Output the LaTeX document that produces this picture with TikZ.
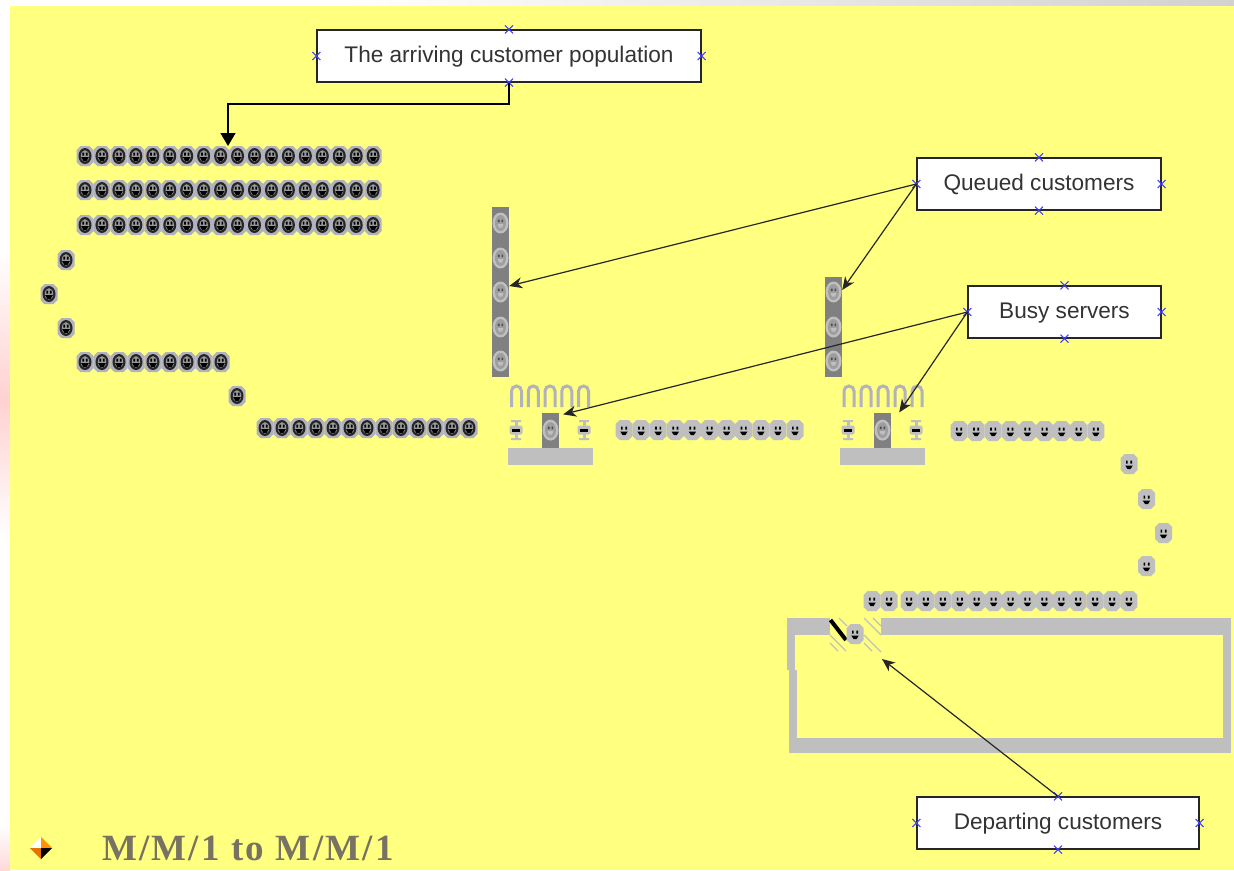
\documentclass[tikz,border=0pt]{standalone}
\usepackage{fontspec}
\setmainfont{Liberation Sans}
\newfontfamily\titlefont[LetterSpace=6]{Liberation Serif}
\usepackage{tikz}
\usetikzlibrary{positioning, arrows, arrows.meta, shapes}
\definecolor{slide}{HTML}{FFFF80}
\definecolor{wallgray}{HTML}{BFBFBF}
\definecolor{bargray}{HTML}{808080}
\definecolor{halo}{HTML}{B2B2BC}
\definecolor{titlegray}{HTML}{787262}
\tikzstyle{arrow} = [line width=1.2pt,-{Stealth[length=13pt,width=11pt,inset=4pt]},draw=black!85]
\tikzstyle{bigarrow} = [line width=1.4pt,-{Triangle[length=13pt,width=15pt]},draw=black]
\tikzstyle{callout} = [rectangle, draw=black!85, line width=1.2pt, fill=white, minimum height=52pt, text=black!80, inner sep=0pt, text height=16pt, text depth=3.4pt, font=\fontsize{22.6}{26}\selectfont]
\tikzstyle{handle} = [cross out, draw=blue!75!white, line width=1pt, minimum size=7pt, inner sep=0pt]
\tikzstyle{queuebar} = [rectangle, fill=bargray, minimum width=17pt, inner sep=0pt]
\tikzstyle{base} = [rectangle, fill=wallgray, minimum width=85pt, minimum height=17pt, inner sep=0pt]
\tikzset{
    pics/darkface/.style={code={
        \fill[halo] (-4.5,-10) -- (4.5,-10) -- (8.5,-6) -- (8.5,6) -- (4.5,10) -- (-4.5,10) -- (-8.5,6) -- (-8.5,-6) -- cycle;
        \fill[black!85] (0,0) ellipse (6.5 and 8);
        \fill[black!40] (0,0) ellipse (4.2 and 5.8);
        \fill[black] (-2.6,-3.5) rectangle (-0.9,-0.5) (0.9,-3.5) rectangle (2.6,-0.5);
        \fill[black] (-3.8,1.2) -- (3.8,1.2) -- (1.5,5) -- (-1.5,5) -- cycle;
    }},
    pics/lightface/.style={code={
        \fill[wallgray] (-4.5,-10) -- (4.5,-10) -- (8.5,-6) -- (8.5,6) -- (4.5,10) -- (-4.5,10) -- (-8.5,6) -- (-8.5,-6) -- cycle;
        \fill[black] (-3,-3.5) rectangle (-1.3,-0.5) (1.3,-3.5) rectangle (3,-0.5);
        \fill[black] (-3.8,1.5) -- (3.8,1.5) -- (1.5,5) -- (-1.5,5) -- cycle;
    }},
    pics/busyface/.style={code={
        \fill[wallgray] (0,0) ellipse (8 and 10.5);
        \fill[black!38] (0,0) ellipse (5.5 and 8);
        \fill[black!70] (-2.6,-3.5) rectangle (-1,-1) (1,-3.5) rectangle (2.6,-1);
        \fill[wallgray] (-3,1) -- (3,1) -- (1.5,4.5) -- (-1.5,4.5) -- cycle;
    }},
    pics/gate/.style={code={
        \fill[wallgray] (-1.5,-9) rectangle (1.5,9);
        \fill[wallgray] (-5,-10) rectangle (5,-8) (-5,8) rectangle (5,10);
        \fill[wallgray, rounded corners=2pt] (-6.5,-4.5) rectangle (6.5,4.5);
        \fill[black] (-4,-1.5) rectangle (4,1.5);
    }}
}
\begin{document}
\begin{tikzpicture}[x=1pt, y=-1pt, node distance=128pt]
    \useasboundingbox (0,0) rectangle (1234,870);
    \fill[white] (0,0) rectangle (1234,870);
    \fill[left color=white, right color=black!18] (340,0) rectangle (1234,6);
    \fill[top color=white, bottom color=red!18] (0,250) rectangle (10,400);
    \fill[top color=red!18, bottom color=white] (0,400) rectangle (10,540);
    \fill[top color=white, bottom color=red!15] (0,825) rectangle (10,870);
    \fill[slide] (10,6) rectangle (1234,870);

    \node (arrivals) [callout, minimum width=384pt] at (509,56) {The arriving customer population};
    \node (queued) [callout, minimum width=244pt] at (1039,184) {Queued customers};
    \node (busy) [callout, minimum width=193pt, below of=queued, xshift=25.5pt] {Busy servers};
    \node (departing) [callout, minimum width=282pt, below of=busy, xshift=-6.5pt, yshift=-383pt] {Departing customers};
    \foreach \n in {arrivals, queued, busy, departing}
        \foreach \a in {north, south, east, west}
            \node (\n-\a) [handle] at (\n.\a) {};

    \foreach \y in {156, 190, 225}
        \foreach \i in {0,...,17}
            \pic at (85+16.95*\i,\y) {darkface};
    \pic at (66,260) {darkface};
    \pic at (49,294) {darkface};
    \pic at (66,328) {darkface};
    \foreach \i in {0,...,8}
        \pic at (85+17*\i,362) {darkface};
    \pic at (237,396) {darkface};
    \foreach \i in {0,...,12}
        \pic at (265+17*\i,428) {darkface};

    \node (queueone) [queuebar, minimum height=170pt] at (500.5,292) {};
    \node (queuetwo) [queuebar, minimum height=100pt] at (833.5,327) {};
    \foreach \y in {223, 258, 292, 327, 361}
        \pic at (500.5,\y) {busyface};
    \foreach \y in {292, 327, 361}
        \pic at (833.5,\y) {busyface};

    \node (baseone) [base] at (550.5,456.5) {};
    \node (serverone) [queuebar, minimum height=35pt, above=0pt of baseone] {};
    \node (basetwo) [base] at (882.5,456.5) {};
    \node (servertwo) [queuebar, minimum height=35pt, above=0pt of basetwo] {};
    \pic at (serverone) {busyface};
    \pic at (servertwo) {busyface};
    \foreach \x in {516.5, 533.25, 550, 566.75, 583.5}
        \draw[halo, line width=3pt, rounded corners=5pt] (\x-5,407) -- (\x-5,386) -- (\x+5,386) -- (\x+5,407);
    \foreach \x in {849, 866, 883, 900, 917}
        \draw[halo, line width=3pt, rounded corners=5pt] (\x-5,407) -- (\x-5,386) -- (\x+5,386) -- (\x+5,407);
    \foreach \x in {516, 584, 848, 916}
        \pic at (\x,430) {gate};

    \foreach \i in {0,...,10}
        \pic at (624+17.1*\i,430) {lightface};
    \foreach \i in {0,...,8}
        \pic at (959+17.1*\i,431) {lightface};
    \pic at (1129,464) {lightface};
    \pic at (1146.5,499) {lightface};
    \pic at (1163.5,533) {lightface};
    \pic at (1146.5,566) {lightface};
    \pic at (872,601) {lightface};
    \pic at (889,601) {lightface};
    \foreach \i in {0,...,13}
        \pic at (909+16.92*\i,601) {lightface};

    \fill[wallgray] (787,618) rectangle (830,635);
    \fill[wallgray] (881,618) rectangle (1231,635);
    \fill[wallgray] (787,635) rectangle (795,670);
    \fill[wallgray] (789,670) rectangle (797,738);
    \fill[wallgray] (1223,635) rectangle (1231,753);
    \fill[wallgray] (789,738) rectangle (1231,753);
    \draw[black, line width=4pt] (830.5,620) -- (846,640);
    \pic at (855,634) {lightface};
    \draw[wallgray, line width=1.3pt] (830,643) -- (838,651) (830,635) -- (846,651)
        (839,618) -- (847,626) (864,618) -- (881,635) (873,618) -- (881,626)
        (864,635) -- (881,652) (864,643) -- (872,651);

    \coordinate (popcorner) at (228,104);
    \coordinate (poptop) at (228,146);
    \coordinate (doorway) at (882,659);
    \draw [bigarrow] (arrivals.south) |- (popcorner) -- (poptop);
    \draw [arrow] (queued.west) -- ([yshift=6pt]queueone.east);
    \draw [arrow] (queued.west) -- ([yshift=37pt]queuetwo.east);
    \draw [arrow] (busy.west) -- ([xshift=4pt,yshift=-2pt]serverone.north east);
    \draw [arrow] (busy.west) -- ([xshift=8pt]servertwo.north east);
    \draw [arrow] (departing.north) -- (doorway);

    \node (bulletmark) [inner sep=0pt, minimum size=22pt] at (41,848) {};
    \fill[white] (bulletmark.west) -- (bulletmark.north) -- (bulletmark.center) -- cycle;
    \fill[orange!85!yellow] (bulletmark.north) -- (bulletmark.east) -- (bulletmark.center) -- cycle;
    \fill[orange!90!black] (bulletmark.west) -- (bulletmark.south) -- (bulletmark.center) -- cycle;
    \fill[black] (bulletmark.east) -- (bulletmark.south) -- (bulletmark.center) -- cycle;
    \node (title) [anchor=base west, inner sep=0pt, text=titlegray, font=\titlefont\bfseries\fontsize{37}{42}\selectfont] at (102,860) {M/M/1 to M/M/1};
\end{tikzpicture}
\end{document}
